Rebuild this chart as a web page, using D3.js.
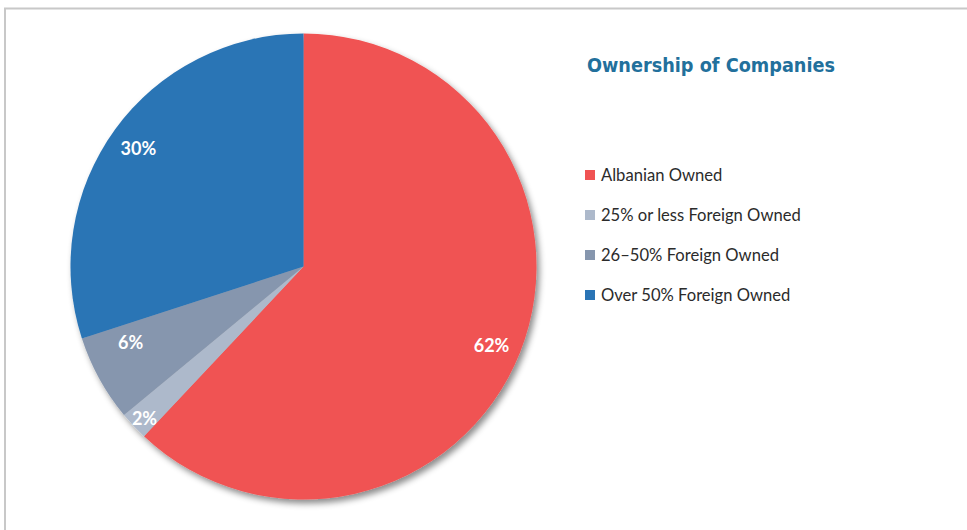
<!DOCTYPE html>
<html>
<head>
<meta charset="utf-8">
<script src="https://cdn.jsdelivr.net/npm/d3@7"></script>
<style>
  html, body { margin: 0; padding: 0; background: #fff; }
  svg { display: block; }
</style>
</head>
<body>
<script>
// Company ownership shares (percent)
const categories = ["Albanian Owned", "25% or less Foreign Owned", "26\u201350% Foreign Owned", "Over 50% Foreign Owned"];
const shares = [62, 2, 6, 30];
const sliceColors = ["#F05353", "#ADB9CB", "#8696AE", "#2A74B5"];
const chartTitle = "Ownership of Companies";

const W = 967, H = 530;
const svg = d3.select("body").append("svg").attr("width", W).attr("height", H);

// Drop shadow for the pie
const defs = svg.append("defs");
const f = defs.append("filter").attr("id", "pieShadow")
  .attr("x", "-10%").attr("y", "-10%").attr("width", "125%").attr("height", "125%");
f.append("feDropShadow").attr("dx", 3).attr("dy", 4).attr("stdDeviation", 3)
  .attr("flood-color", "#000").attr("flood-opacity", 0.45);

// Outer frame (open to the right and bottom)
svg.append("rect").attr("x", 5).attr("y", 8.5).attr("width", W + 20).attr("height", H + 20)
  .attr("fill", "none").attr("stroke", "#c8c8c8").attr("stroke-width", 2);

const cx = 303.5, cy = 266.5, R = 233;
const data = categories.map((c, i) => ({ name: c, value: shares[i], color: sliceColors[i] }));

const pie = d3.pie().value(d => d.value).sort(null);
const arcs = pie(data);
const arc = d3.arc().innerRadius(0).outerRadius(R);

const g = svg.append("g").attr("transform", `translate(${cx},${cy})`);
g.append("g").attr("filter", "url(#pieShadow)")
  .selectAll("path").data(arcs).join("path")
  .attr("d", arc).attr("fill", d => d.data.color);

// Label placement: radial fraction and angular nudge (radians) per slice
const labelLayout = [
  { r: 0.875, da: 0.02 },
  { r: 0.945, da: -0.01 },
  { r: 0.81, da: 0.09 },
  { r: 0.87, da: -0.01 }
];
g.selectAll("text.lbl").data(arcs).join("text")
  .attr("class", "lbl")
  .attr("transform", (d, i) => {
    const a = (d.startAngle + d.endAngle) / 2 + labelLayout[i].da;
    const rr = R * labelLayout[i].r;
    return `translate(${rr * Math.sin(a)},${-rr * Math.cos(a)})`;
  })
  .attr("text-anchor", "middle").attr("dy", "0.35em")
  .attr("fill", "#fff").attr("font-family", "Lato, 'Open Sans', sans-serif")
  .attr("font-weight", "bold").attr("font-size", 18)
  .text(d => d.data.value + "%");

// Title
svg.append("text").attr("x", 587).attr("y", 72)
  .attr("fill", "#22709c").attr("font-family", "'DejaVu Sans', sans-serif")
  .attr("font-weight", "bold").attr("font-size", 19)
  .attr("textLength", 248).attr("lengthAdjust", "spacingAndGlyphs")
  .text(chartTitle);

// Legend
const legend = svg.append("g").attr("transform", "translate(585,175)");
const item = legend.selectAll("g").data(data).join("g")
  .attr("transform", (d, i) => `translate(0,${i * 40})`);
item.append("rect").attr("x", 0).attr("y", -5).attr("width", 10).attr("height", 10)
  .attr("fill", d => d.color);
item.append("text").attr("x", 16).attr("dy", "0.35em")
  .attr("fill", "#2b2b2b").attr("font-family", "Lato, 'Open Sans', sans-serif")
  .attr("font-size", 16.6)
  .text(d => d.name);
</script>
</body>
</html>
